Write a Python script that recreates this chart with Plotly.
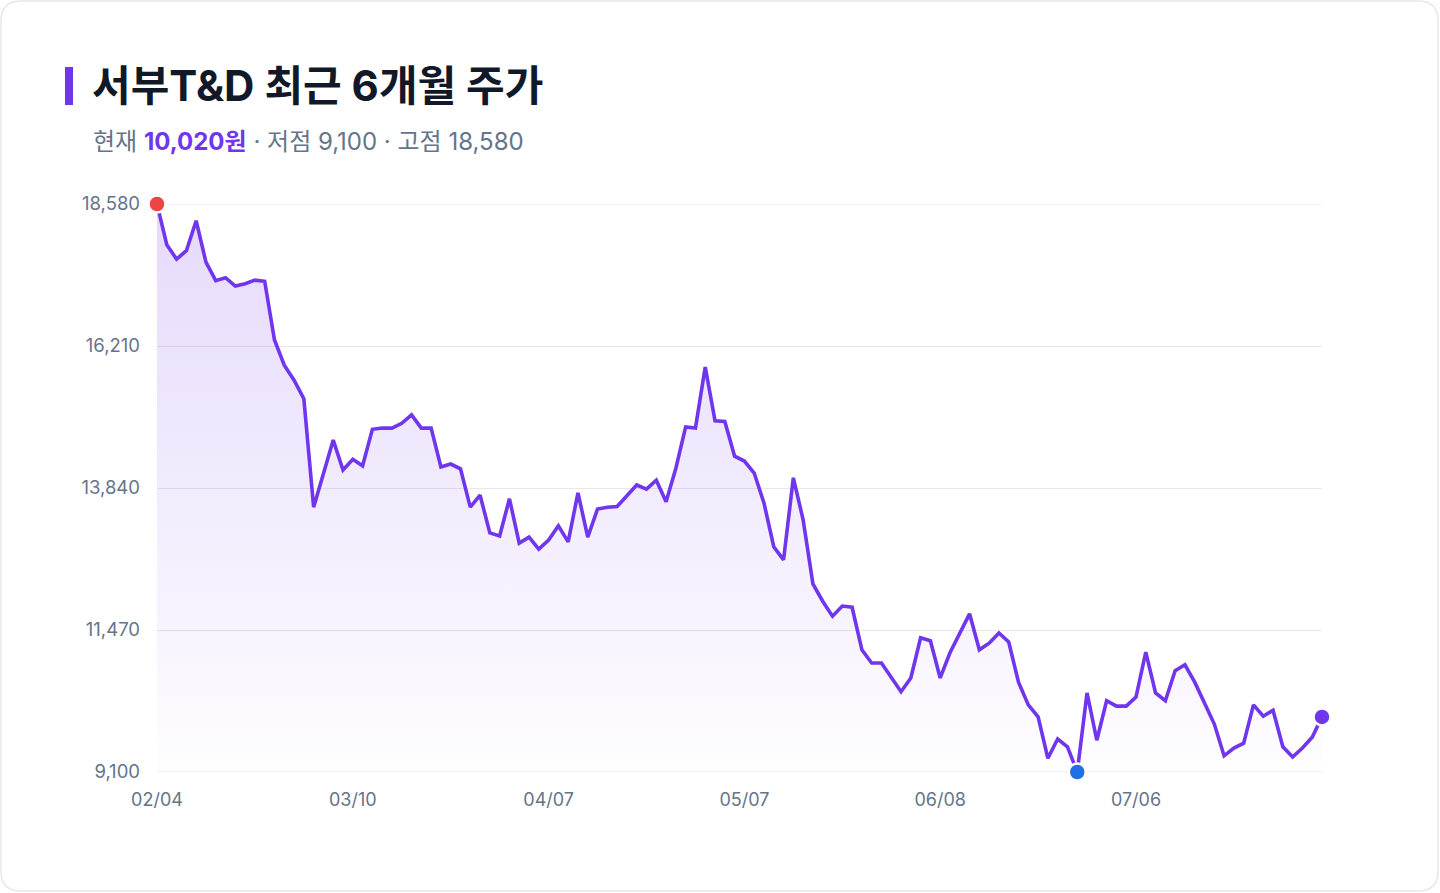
import plotly.graph_objects as go

# 서부T&D 최근 6개월 종가 (원) - 120 거래일
prices = [
    18580, 17900, 17660, 17800, 18300, 17610, 17300, 17350, 17210, 17250,
    17310, 17290, 16310, 15890, 15640, 15330, 13520, 14090, 14640, 14140,
    14320, 14210, 14820, 14840, 14840, 14920, 15060, 14840, 14840, 14190,
    14240, 14160, 13520, 13720, 13090, 13040, 13660, 12920, 13020, 12820,
    12970, 13210, 12940, 13760, 13020, 13490, 13520, 13530, 13710, 13890,
    13820, 13970, 13610, 14170, 14860, 14840, 15860, 14960, 14950, 14370,
    14290, 14090, 13590, 12860, 12640, 14010, 13310, 12240, 11950, 11700,
    11870, 11850, 11140, 10920, 10920, 10690, 10440, 10670, 11340, 11290,
    10670, 11090, 11420, 11740, 11140, 11250, 11420, 11270, 10600, 10220,
    10020, 9330, 9650, 9520, 9100, 10420, 9630, 10290, 10200, 10200,
    10350, 11100, 10420, 10290, 10790, 10890, 10600, 10240, 9900, 9370,
    9500, 9580, 10220, 10030, 10130, 9520, 9350, 9500, 9680, 10020,
]
tick_pos = [0, 20, 40, 60, 80, 100]
tick_labels = ["02/04", "03/10", "04/07", "05/07", "06/08", "07/06"]
y_ticks = [9100, 11470, 13840, 16210, 18580]

PURPLE = "#7036ee"
GRAY = "#64748b"
GRID = "#e5e7eb"
W, H = 1440, 893
L, R, T, B = 157, 1322, 204, 772  # plot area in px


def px(x):
    return (x - L) / (R - L)


def py(y):
    return (B - y) / (B - T)


n = len(prices)
xs = list(range(n))
low = min(prices)
high = max(prices)
i_low = prices.index(low)
i_high = prices.index(high)
cur = prices[-1]

fig = go.Figure()

# baseline for the gradient fill
fig.add_trace(go.Scatter(
    x=xs, y=[low] * n, mode="lines", line=dict(width=0),
    hoverinfo="skip", showlegend=False,
))
fig.add_trace(go.Scatter(
    x=xs, y=prices, mode="lines",
    line=dict(color=PURPLE, width=3.6),
    fill="tonexty",
    fillgradient=dict(
        type="vertical",
        colorscale=[[0, "rgba(124,58,237,0.01)"], [1, "rgba(124,58,237,0.19)"]],
        start=low, stop=high,
    ),
    cliponaxis=False, showlegend=False, hoverinfo="skip",
))

for idx, col in [(i_high, "#ef4444"), (i_low, "#1f6fe5"), (n - 1, PURPLE)]:
    fig.add_trace(go.Scatter(
        x=[idx], y=[prices[idx]], mode="markers",
        marker=dict(size=17, color=col, line=dict(color="white", width=2.5)),
        cliponaxis=False, showlegend=False, hoverinfo="skip",
    ))

# plotly drops gridlines sitting on the range edges, draw those two by hand
for v in (low, high):
    fig.add_shape(type="line", xref="paper", yref="y", x0=0, x1=1, y0=v, y1=v,
                  line=dict(color=GRID, width=1), layer="below")

# card border with rounded corners
r = 20
x0, x1, y0, y1 = 1, 1438, 1, 891
d = (
    f"M {px(x0 + r)},{py(y0)} L {px(x1 - r)},{py(y0)} "
    f"Q {px(x1)},{py(y0)} {px(x1)},{py(y0 + r)} L {px(x1)},{py(y1 - r)} "
    f"Q {px(x1)},{py(y1)} {px(x1 - r)},{py(y1)} L {px(x0 + r)},{py(y1)} "
    f"Q {px(x0)},{py(y1)} {px(x0)},{py(y1 - r)} L {px(x0)},{py(y0 + r)} "
    f"Q {px(x0)},{py(y0)} {px(x0 + r)},{py(y0)} Z"
)
fig.add_shape(type="path", path=d, xref="paper", yref="paper",
              line=dict(color=GRID, width=1.5), layer="below")
# accent bar next to the title
fig.add_shape(type="rect", xref="paper", yref="paper",
              x0=px(65), x1=px(73), y0=py(105), y1=py(67),
              fillcolor=PURPLE, line=dict(width=0))

fig.add_annotation(
    x=px(90), y=py(86), xref="paper", yref="paper",
    xanchor="left", yanchor="middle", showarrow=False,
    text="<b>서부T&D 최근 6개월 주가</b>",
    font=dict(family="Inter, Noto Sans CJK KR", size=42, color="#111827"),
)
fig.add_annotation(
    x=px(91), y=py(141), xref="paper", yref="paper",
    xanchor="left", yanchor="middle", showarrow=False,
    text=(f"현재 <span style='color:{PURPLE}'><b>{cur:,}원</b></span>"
          f" · 저점 {low:,} · 고점 {high:,}"),
    font=dict(family="Inter, Noto Sans CJK KR", size=24, color=GRAY),
)

fig.update_layout(
    width=W, height=H,
    margin=dict(l=L, r=W - R, t=T, b=H - B),
    paper_bgcolor="white", plot_bgcolor="white",
    font=dict(family="Inter, Noto Sans CJK KR", color=GRAY),
    xaxis=dict(
        range=[0, n - 1], tickvals=tick_pos, ticktext=tick_labels,
        showgrid=False, zeroline=False, showline=False, ticks="",
        tickfont=dict(size=18, color=GRAY), ticklabelstandoff=15,
    ),
    yaxis=dict(
        range=[low, high], tickvals=y_ticks, tickformat=",",
        showgrid=True, gridcolor=GRID, gridwidth=1,
        zeroline=False, showline=False, ticks="",
        tickfont=dict(size=18.5, color=GRAY), ticklabelstandoff=16,
    ),
)

fig.write_html("out.html", config={"displayModeBar": False},
               post_script="document.body.style.margin='0';")
